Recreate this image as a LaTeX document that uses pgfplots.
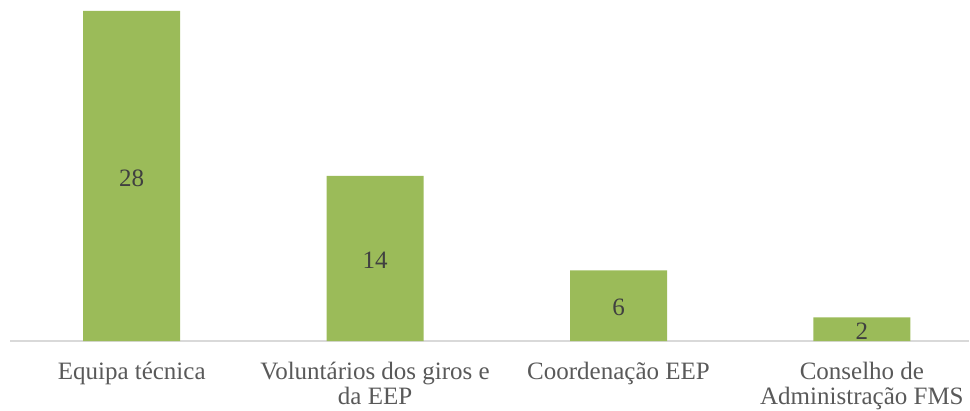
\documentclass[border=0pt]{standalone}
\usepackage{pgfplots}
\pgfplotsset{compat=1.18}
\usepackage{fontspec}
\setmainfont{Liberation Serif}
\definecolor{barg}{HTML}{9BBB59}
\definecolor{tickc}{HTML}{595959}
\definecolor{labc}{HTML}{404040}
\definecolor{axc}{HTML}{D9D9D9}
\begin{document}
\begin{tikzpicture}
\begin{axis}[
  at={(0pt,0pt)}, anchor=south west,
  scale only axis,
  width=959pt, height=341pt,
  xmin=-0.5, xmax=3.44,
  ymin=0, ymax=28.93,
  axis y line=none,
  axis x line=bottom,
  axis line style={-, draw=axc, line width=1.5pt},
  xtick={0,1,2,3},
  xticklabels={{Equipa técnica},{Voluntários dos giros e\\da EEP},{Coordenação EEP},{Conselho de\\Administração FMS}},
  xtick style={draw=none},
  xticklabel style={font=\fontsize{25}{25}\selectfont, text=tickc, align=center, anchor=north, inner sep=0pt, yshift=-19pt},
  clip=false,
]
\addplot[ybar, bar width=97pt, fill=barg, draw=none] coordinates {(0,28) (1,14) (2,6) (3,2)};
\addplot[draw=none, mark=none, nodes near coords, point meta=explicit symbolic,
  every node near coord/.style={anchor=center, inner sep=0pt, yshift=-2pt, text=labc, font=\fontsize{25}{25}\selectfont}]
  coordinates {(0,14) [28] (1,7) [14] (2,3) [6] (3,1) [2]};
\end{axis}
\pgfresetboundingbox
\useasboundingbox (-10pt,-69pt) rectangle (960pt,341pt);
\end{tikzpicture}
\end{document}
